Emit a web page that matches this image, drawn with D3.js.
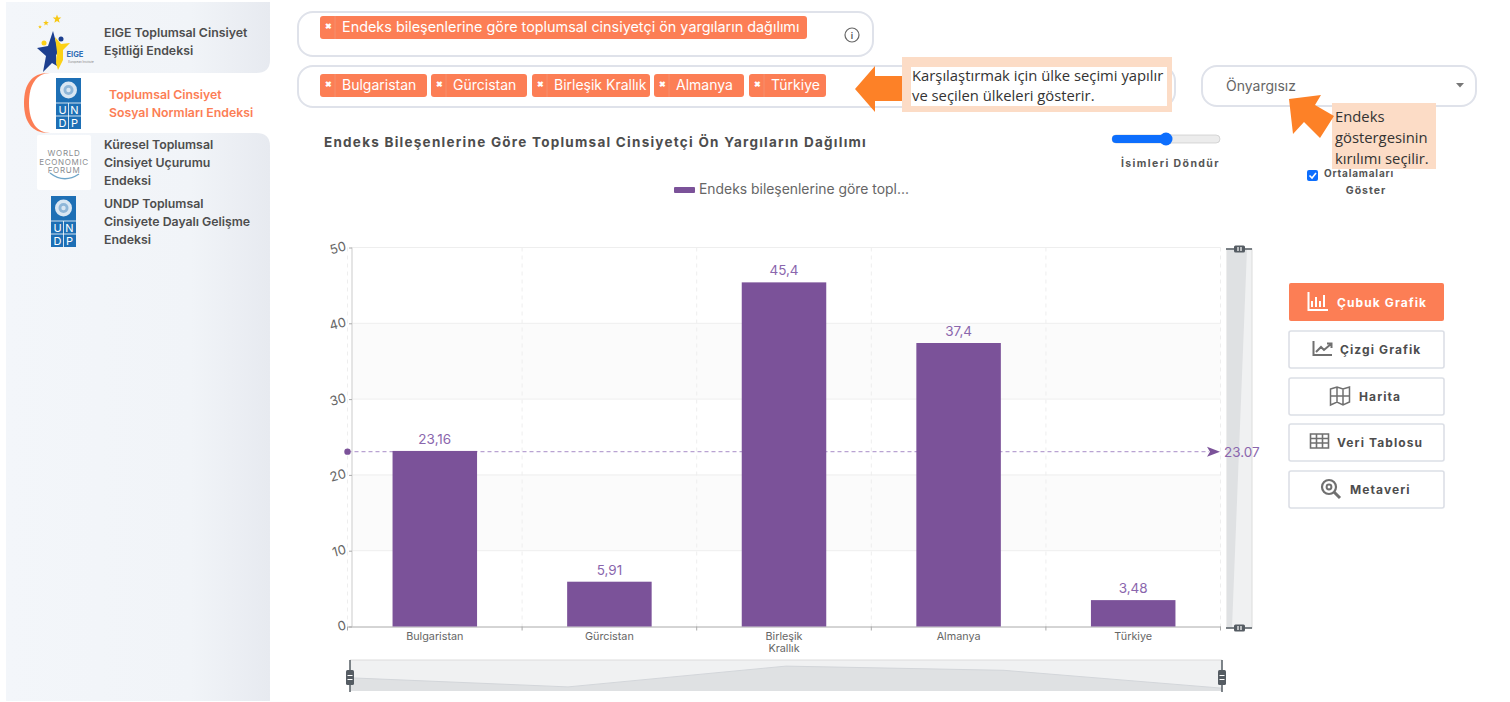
<!DOCTYPE html>
<html lang="tr">
<head>
<meta charset="utf-8">
<title>Toplumsal Cinsiyet Sosyal Normları Endeksi</title>
<script src="https://cdn.jsdelivr.net/npm/d3@7"></script>
<style>
  html, body { margin: 0; padding: 0; background: #fff; overflow: hidden; }
  svg { display: block; }
  text { font-family: Inter, "Open Sans", sans-serif; }
  .note { font-family: "Open Sans", sans-serif; fill: #333; font-size: 14.8px; }
</style>
</head>
<body>
<svg id="page" width="1510" height="702"></svg>
<script>
const categories = ["Bulgaristan", "Gürcistan", "Birleşik Krallık", "Almanya", "Türkiye"];
const values = [23.16, 5.91, 45.4, 37.4, 3.48];
const averageValue = 23.07;
const yTicks = [0, 10, 20, 30, 40, 50];

const indicatorTag = "Endeks bileşenlerine göre toplumsal cinsiyetçi ön yargıların dağılımı";
const chartTitle = "Endeks Bileşenlerine Göre Toplumsal Cinsiyetçi Ön Yargıların Dağılımı";
const legendLabel = "Endeks bileşenlerine göre topl...";
const countryTagEdges = [[320, 427], [431, 527], [532, 650], [654, 744], [749, 826]];
const menuLabels = [
    ["EIGE Toplumsal Cinsiyet", "Eşitliği Endeksi"],
    ["Toplumsal Cinsiyet", "Sosyal Normları Endeksi"],
    ["Küresel Toplumsal", "Cinsiyet Uçurumu", "Endeksi"],
    ["UNDP Toplumsal", "Cinsiyete Dayalı Gelişme", "Endeksi"]
];
const buttonLabels = ["Çubuk Grafik", "Çizgi Grafik", "Harita", "Veri Tablosu", "Metaveri"];

const ORANGE = "#fc7e55", ARROW = "#fd8127", PEACH = "#fcdcc6", PURPLE = "#7b5299", PURPLE_TEXT = "#8a66ad";
const svg = d3.select("#page");
const defs = svg.append("defs");

const grad = defs.append("linearGradient").attr("id", "sideGrad");
grad.append("stop").attr("offset", "0").attr("stop-color", "#f3f6fa");
grad.append("stop").attr("offset", "0.7").attr("stop-color", "#f1f4f8");
grad.append("stop").attr("offset", "1").attr("stop-color", "#e7eaf0");

function label(parent, x, y, str, size, color, opts = {}) {
    return parent.append("text")
        .attr("x", x).attr("y", y)
        .attr("dominant-baseline", "central")
        .attr("text-anchor", opts.anchor || "start")
        .attr("font-size", size)
        .attr("font-weight", opts.weight || 400)
        .attr("letter-spacing", opts.spacing || 0)
        .attr("fill", color)
        .text(str);
}

function starPath(cx, cy, r) {
    const pts = d3.range(10).map(i => {
        const a = -Math.PI / 2 + i * Math.PI / 5;
        const rr = i % 2 ? r * 0.42 : r;
        return [cx + rr * Math.cos(a), cy + rr * Math.sin(a)];
    });
    return d3.line()(pts) + "Z";
}

// sidebar
function drawSidebar() {
    const side = svg.append("g");
    side.append("rect").attr("x", 6).attr("y", 2).attr("width", 264).attr("height", 699).attr("fill", "url(#sideGrad)");
    // active tab
    side.append("path").attr("d", "M271,73H48C32,73 24,84 24,103C24,122 32,133 48,133H271Z").attr("fill", ORANGE);
    side.append("path").attr("d", "M271,73H50C37,73 29,84 29,103C29,122 37,133 50,133H271Z").attr("fill", "#fff");
    side.append("path").attr("d", "M256,73Q270,73 270,60V73H271Z").attr("fill", "#fff");
    side.append("path").attr("d", "M256,133Q270,133 270,146V133H271Z").attr("fill", "#fff");

    const rows = [[32, 104], [94, 109], [144, 104], [203, 104]];
    menuLabels.forEach((lines, i) => {
        lines.forEach((line, j) => {
            label(side, rows[i][1], rows[i][0] + j * 18, line, 12.3, i === 1 ? ORANGE : "#4d4d4d", { weight: 600 });
        });
    });

    drawUndp(side, 56, 78);
    drawUndp(side, 51, 196);

    // EIGE
    side.append("path").attr("d", starPath(57, 19, 4.5)).attr("fill", "#f7c815");
    side.append("path").attr("d", starPath(46, 23, 3)).attr("fill", "#f7c815");
    side.append("path").attr("d", starPath(40, 27, 2)).attr("fill", "#f7c815");
    side.append("path").attr("d", "M53,31L57,46L62,49L56,55L57,66L52,63L43,72L46,56L37,48L48,46Z").attr("fill", "#1d3f8f");
    side.append("path").attr("d", "M55,37L61,44L70,43L63,50L63,60L58,70L56,63L57,52Z").attr("fill", "#fcd116");
    side.append("circle").attr("cx", 44).attr("cy", 43).attr("r", 2.5).attr("fill", "#fcd116");
    side.append("circle").attr("cx", 61).attr("cy", 39).attr("r", 2.5).attr("fill", "#1d3f8f");
    label(side, 75, 54, "EIGE", 7.5, "#2f6db5", { anchor: "middle", weight: 700 });
    label(side, 81, 62, "European Institute", 3, "#888", { anchor: "middle" });

    // WEF
    side.append("rect").attr("x", 37).attr("y", 135).attr("width", 54).attr("height", 55).attr("rx", 2).attr("fill", "#fff");
    ["WORLD", "ECONOMIC", "FORUM"].forEach((w, i) => {
        label(side, 64, 153 + i * 8.5, w, 8, "#8a8d91", { anchor: "middle", spacing: 0.7 });
    });
    side.append("path").attr("d", "M50,173Q64,184 79,174").attr("fill", "none").attr("stroke", "#6fa6c9").attr("stroke-width", 1.4);
}

function drawUndp(parent, x, y) {
    const g = parent.append("g").attr("transform", `translate(${x},${y})`);
    g.append("rect").attr("width", 25).attr("height", 51).attr("fill", "#1d6fb5");
    g.append("circle").attr("cx", 12.5).attr("cy", 12).attr("r", 8.5).attr("fill", "#d9e6f2");
    g.append("circle").attr("cx", 12.5).attr("cy", 12).attr("r", 5).attr("fill", "#8fb6d8");
    g.append("circle").attr("cx", 12.5).attr("cy", 12).attr("r", 2.2).attr("fill", "#d9e6f2");
    g.append("path").attr("d", "M0,25H25M0,38H25M12.5,25V51").attr("stroke", "#fff").attr("stroke-width", 0.8);
    [["U", 6.5, 32], ["N", 18.5, 32], ["D", 6.5, 45], ["P", 18.5, 45]].forEach(c => {
        label(g, c[1], c[2], c[0], 11, "#fff", { anchor: "middle" });
    });
}

function tag(parent, x0, x1, y, str, size) {
    parent.append("rect").attr("x", x0).attr("y", y).attr("width", x1 - x0).attr("height", 23).attr("rx", 3).attr("fill", ORANGE);
    parent.append("line").attr("x1", x0 + 15).attr("x2", x0 + 15).attr("y1", y).attr("y2", y + 23).attr("stroke", "#f58f6e").attr("stroke-width", 1);
    label(parent, x0 + 8, y + 10, "✖", 8, "#fff", { anchor: "middle", weight: 700 });
    label(parent, x0 + 22, y + 10, str, size, "#fff");
}

function pill(parent, x, y, w, h) {
    parent.append("rect").attr("x", x).attr("y", y).attr("width", w).attr("height", h).attr("rx", 15)
        .attr("fill", "#fff").attr("stroke", "#dfe2ea").attr("stroke-width", 2);
}

// filter row
function drawFilters() {
    const top = svg.append("g");
    pill(top, 298, 12, 575, 44);
    pill(top, 298, 66, 877, 41);
    pill(top, 1202, 66, 274, 40);

    tag(top, 320, 807, 16, indicatorTag, 14.4);
    categories.forEach((c, i) => tag(top, countryTagEdges[i][0], countryTagEdges[i][1], 74, c, 14));

    top.append("circle").attr("cx", 852).attr("cy", 35).attr("r", 7).attr("fill", "none").attr("stroke", "#666").attr("stroke-width", 1.2);
    label(top, 852, 35.5, "i", 9, "#555", { anchor: "middle", weight: 600 });

    label(top, 1226, 85, "Önyargısız", 14, "#666");
    top.append("path").attr("d", "M1456,83h8l-4,4.5Z").attr("fill", "#777");

    // slider + check
    top.append("rect").attr("x", 1112).attr("y", 135).attr("width", 108).attr("height", 8).attr("rx", 4).attr("fill", "#ececec").attr("stroke", "#c9c9c9").attr("stroke-width", 0.7);
    top.append("rect").attr("x", 1112).attr("y", 135).attr("width", 54).attr("height", 8).attr("rx", 4).attr("fill", "#0d6efd");
    top.append("circle").attr("cx", 1166).attr("cy", 139).attr("r", 6.5).attr("fill", "#0d6efd");
    label(top, 1220, 163, "İsimleri Döndür", 10.5, "#555", { anchor: "end", weight: 700, spacing: 1.4 });

    top.append("rect").attr("x", 1307).attr("y", 170).attr("width", 11).attr("height", 11).attr("rx", 2).attr("fill", "#0d6efd");
    top.append("path").attr("d", "M1309.5,175.5l2.5,2.5l4,-5").attr("fill", "none").attr("stroke", "#fff").attr("stroke-width", 1.6);
    label(top, 1359, 173, "Ortalamaları", 10, "#555", { anchor: "middle", weight: 700, spacing: 0.8 });
    label(top, 1366, 190, "Göster", 10.5, "#555", { anchor: "middle", weight: 700, spacing: 1 });

    label(top, 324, 142, chartTitle, 13.5, "#4d4d4d", { weight: 700, spacing: 1.25 });
    top.append("rect").attr("x", 674).attr("y", 187).attr("width", 21).attr("height", 6).attr("rx", 1).attr("fill", PURPLE);
    label(top, 699, 189, legendLabel, 13.9, "#666");
}

// the chart itself
function drawChart() {
    const chart = svg.append("g");
    const left = 347.5, right = 1220.5, bottom = 626.5, topY = 247.5;

    const x = d3.scaleBand().domain(categories).range([left, right]).paddingInner(0.516).paddingOuter(0.258);
    const y = d3.scaleLinear().domain([0, 50]).range([bottom, topY]);

    // alternating bands
    [[10, 20], [30, 40]].forEach(b => {
        chart.append("rect").attr("x", 352).attr("width", right - 352)
            .attr("y", y(b[1])).attr("height", y(b[0]) - y(b[1])).attr("fill", "#fbfbfb");
    });
    chart.selectAll(".grid").data(yTicks.slice(1)).join("line").attr("class", "grid")
        .attr("x1", 352).attr("x2", right).attr("y1", d => y(d)).attr("y2", d => y(d))
        .attr("stroke", "#eeeeee");

    const boundaries = categories.map(c => x(c) - x.step() * x.paddingInner() / 2).concat(right);
    chart.selectAll(".vgrid").data(boundaries).join("line").attr("class", "vgrid")
        .attr("x1", d => d).attr("x2", d => d).attr("y1", topY).attr("y2", bottom)
        .attr("stroke", "#eeeeee").attr("stroke-dasharray", "4 4");

    chart.append("line").attr("x1", 352).attr("x2", 352).attr("y1", topY).attr("y2", bottom).attr("stroke", "#dddddd").attr("stroke-width", 1.5);

    const yAxis = chart.append("g").attr("transform", "translate(352,0)")
        .call(d3.axisLeft(y).tickValues(yTicks).tickSize(3).tickPadding(3));
    yAxis.select(".domain").remove();
    yAxis.selectAll("line").attr("stroke", "#aaa");
    yAxis.selectAll("text")
        .attr("font-family", "Inter, sans-serif").attr("font-size", 13).attr("fill", "#666")
        .attr("transform", "rotate(-15,-13,0)").attr("dy", "0.32em").attr("x", -6);

    const xAxis = chart.append("g").attr("transform", `translate(0,${bottom})`)
        .call(d3.axisBottom(x).tickSize(0).tickPadding(6));
    xAxis.select(".domain").attr("stroke", "#aaa");
    xAxis.selectAll("text")
        .attr("font-family", "Inter, sans-serif").attr("font-size", 10.8).attr("fill", "#666")
        .each(function (d) {
            const words = d.split(" ");
            if (words.length < 2) return;
            const t = d3.select(this).text(null);
            words.forEach((w, i) => {
                t.append("tspan").attr("x", 0).attr("dy", i ? 11.5 : "0.71em").text(w);
            });
        });
    chart.selectAll(".xtick").data(boundaries).join("line").attr("class", "xtick")
        .attr("x1", d => d).attr("x2", d => d).attr("y1", bottom).attr("y2", bottom + 4).attr("stroke", "#aaa");

    // average line runs behind the bars
    const avgY = y(averageValue);
    chart.append("line").attr("x1", left).attr("x2", 1209).attr("y1", avgY).attr("y2", avgY)
        .attr("stroke", "#b9a3d2").attr("stroke-dasharray", "4 3").attr("stroke-width", 1.4);

    chart.selectAll(".bar").data(values).join("rect").attr("class", "bar")
        .attr("x", (d, i) => x(categories[i])).attr("width", x.bandwidth())
        .attr("y", d => y(d)).attr("height", d => y(0) - y(d)).attr("fill", PURPLE);

    chart.selectAll(".val").data(values).join("text").attr("class", "val")
        .attr("x", (d, i) => x(categories[i]) + x.bandwidth() / 2).attr("y", d => y(d) - 12)
        .attr("text-anchor", "middle").attr("dominant-baseline", "central")
        .attr("font-size", 13.5).attr("fill", PURPLE_TEXT)
        .text(d => String(d).replace(".", ","));

    chart.append("circle").attr("cx", left).attr("cy", avgY).attr("r", 3.2).attr("fill", PURPLE);
    chart.append("path").attr("transform", `translate(1207,${avgY})`).attr("d", "M0,-5L13,0L0,5L3,0Z").attr("fill", PURPLE);

    // horizontal zoom slider with data shadow
    const zoomX = d3.scalePoint().domain(categories).range([350, 1222]);
    const zoomY = d3.scaleLinear().domain([0, 50]).range([690, 663.7]);
    chart.append("rect").attr("x", 350).attr("y", 660).attr("width", 872).attr("height", 31).attr("fill", "#f0f1f2");
    chart.append("line").attr("x1", 350).attr("x2", 1222).attr("y1", 660).attr("y2", 660).attr("stroke", "#dcdcdc");
    const zoomArea = d3.area().x((d, i) => zoomX(categories[i])).y0(691).y1(d => zoomY(d));
    chart.append("path").attr("d", zoomArea(values)).attr("fill", "#dfe1e3").attr("stroke", "none");
    chart.append("path").attr("d", d3.line().x((d, i) => zoomX(categories[i])).y(d => zoomY(d))(values))
        .attr("fill", "none").attr("stroke", "#d3d6da");
    [350, 1222].forEach(hx => {
        chart.append("line").attr("x1", hx).attr("x2", hx).attr("y1", 660).attr("y2", 692).attr("stroke", "#555c63").attr("stroke-width", 1.5);
        chart.append("rect").attr("x", hx - 4).attr("y", 670).attr("width", 8).attr("height", 15).attr("rx", 1.5).attr("fill", "#555c63");
        chart.append("path").attr("d", `M${hx - 2.5},675.5h5M${hx - 2.5},679.5h5`).attr("stroke", "#fff").attr("stroke-width", 1.2);
    });

    // vertical zoom slider
    const sideX = d3.scaleLinear().domain([d3.min(values), d3.max(values)]).range([1232, 1247]);
    chart.append("rect").attr("x", 1227).attr("y", 249).attr("width", 25).attr("height", 379).attr("fill", "#f0f1f2").attr("stroke", "#dcdcdc");
    chart.append("path").attr("d", `M1227,249H${sideX(d3.max(values))}L${sideX(d3.min(values))},628H1227Z`).attr("fill", "#dfe1e3");
    [249, 628].forEach(hy => {
        chart.append("line").attr("x1", 1226).attr("x2", 1252).attr("y1", hy).attr("y2", hy).attr("stroke", "#555c63").attr("stroke-width", 1.5);
        chart.append("rect").attr("x", 1234).attr("y", hy - 3.5).attr("width", 11).attr("height", 7).attr("rx", 1.5).attr("fill", "#555c63");
        chart.append("path").attr("d", `M1238,${hy - 2}v4M1241,${hy - 2}v4`).attr("stroke", "#fff").attr("stroke-width", 1.2);
    });

    // label sits on top of the slider
    chart.append("text").attr("x", 1224).attr("y", avgY).attr("dominant-baseline", "central")
        .attr("font-family", "Liberation Sans, sans-serif").attr("font-size", 13.5).attr("fill", PURPLE_TEXT)
        .text(averageValue.toFixed(2));
}

// chart type buttons
function drawButtons() {
    const g = svg.append("g");
    const rows = [283, 331, 378, 424, 471];
    const iconX = [1308, 1313, 1330, 1310, 1321];
    const textX = [1337, 1340, 1359, 1337, 1350];
    buttonLabels.forEach((b, i) => {
        const active = i === 0;
        const h = active ? 38 : 37;
        g.append("rect").attr("x", 1289).attr("y", rows[i]).attr("width", 155).attr("height", h).attr("rx", 2)
            .attr("fill", active ? ORANGE : "#fff").attr("stroke", active ? ORANGE : "#dcdfe6").attr("stroke-width", active ? 0 : 1.6);
        label(g, textX[i], rows[i] + h / 2, b, 12, active ? "#fff" : "#4d4d4d", { weight: 700, spacing: 1.1 });
        const ic = g.append("g").attr("transform", `translate(${iconX[i]},${rows[i] + 9})`)
            .attr("fill", "none").attr("stroke", active ? "#fff" : "#707070").attr("stroke-width", 2);
        if (i === 0) ic.append("path").attr("d", "M0.5,0V18H20M4,15V9M8,15V5M12,15V9M16,15V3");
        if (i === 1) ic.append("path").attr("d", "M0.5,1V15H19M3,12L8,7L11,10L18,4M14,3.5H18.5V8");
        if (i === 2) ic.append("path").attr("d", "M0.5,2L7,0L13,2L19.5,0V15L13,18L7,15L0.5,18ZM7,0V15M13,2V18M0.5,9H19.5").attr("stroke-width", 1.5);
        if (i === 3) ic.append("path").attr("d", "M0.5,1H18.5V15H0.5ZM0.5,5.5H18.5M0.5,10H18.5M6.5,1V15M12.5,1V15").attr("stroke-width", 1.6);
        if (i === 4) {
            ic.append("circle").attr("cx", 8).attr("cy", 7).attr("r", 7).attr("stroke-width", 2.2);
            ic.append("circle").attr("cx", 8).attr("cy", 7).attr("r", 2.4);
            ic.append("path").attr("d", "M13,12L19,18").attr("stroke-width", 3);
        }
    });
}

// orange call-outs on top of the screenshot
function drawNotes() {
    const g = svg.append("g");
    g.append("path").attr("d", "M902,76H875V66L855,89L875,112V101H902Z").attr("fill", ARROW);
    g.append("rect").attr("x", 902).attr("y", 57).attr("width", 270).attr("height", 55).attr("fill", PEACH);
    g.append("rect").attr("x", 911).attr("y", 67).attr("width", 256).attr("height", 39).attr("fill", "#fff");
    g.append("text").attr("class", "note").attr("x", 912).attr("y", 75).attr("dominant-baseline", "central").text("Karşılaştırmak için ülke seçimi yapılır");
    g.append("text").attr("class", "note").attr("x", 912).attr("y", 95).attr("dominant-baseline", "central").text("ve seçilen ülkeleri gösterir.");

    g.append("rect").attr("x", 1332).attr("y", 103).attr("width", 104).attr("height", 66).attr("fill", PEACH);
    ["Endeks", "göstergesinin", "kırılımı seçilir."].forEach((s, i) => {
        g.append("text").attr("class", "note").attr("x", 1335).attr("y", 116 + i * 21).attr("dominant-baseline", "central").text(s);
    });
    g.append("path").attr("d", "M1321,95L1289,99L1293,134L1304,122L1320,138L1334,116L1315,105Z").attr("fill", ARROW);
}

drawSidebar();
drawFilters();
drawChart();
drawButtons();
drawNotes();
</script>
</body>
</html>
